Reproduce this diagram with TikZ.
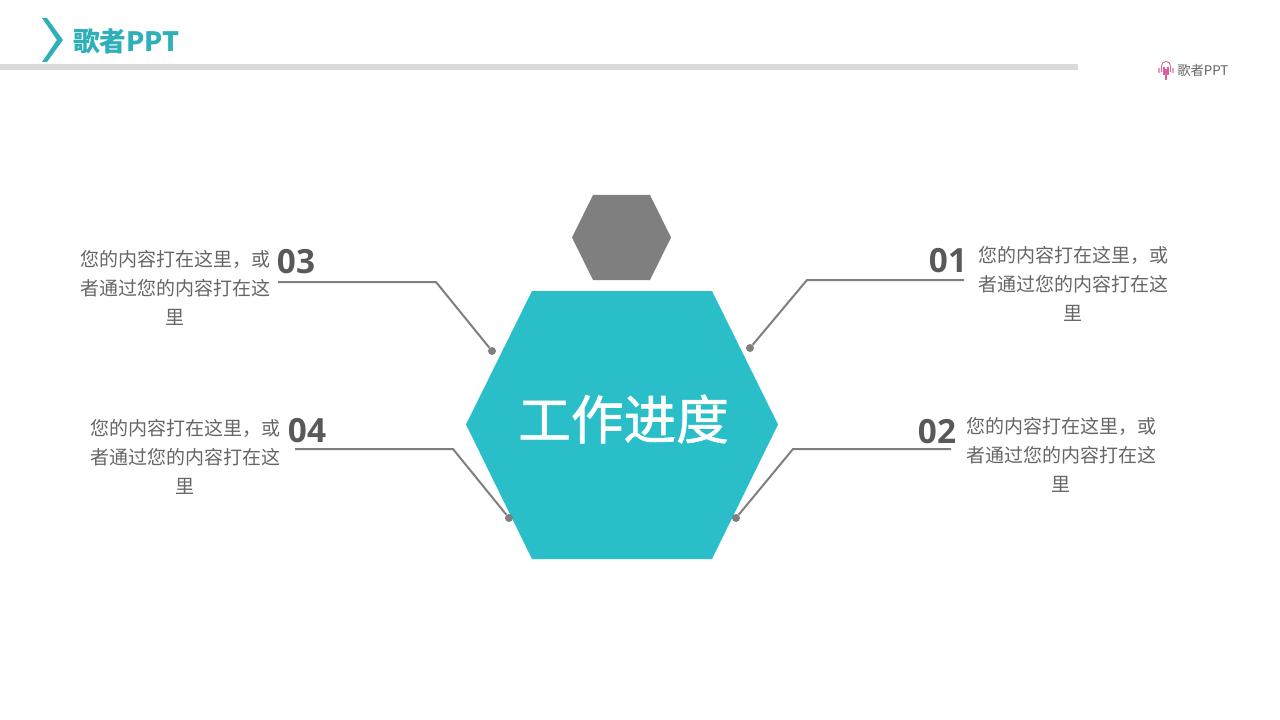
\documentclass[tikz,border=0pt]{standalone}
\usepackage{fontspec}
\setmainfont{Noto Sans CJK SC}
\newfontfamily\numfont{Open Sans}
\newfontfamily\midfont[BoldFont=Noto Sans CJK SC,BoldFeatures={FakeBold=1.2}]{Noto Sans CJK SC}
\usetikzlibrary{calc}
\definecolor{tealmain}{HTML}{29BEC8}
\definecolor{tealhead}{HTML}{2FB0B9}
\definecolor{greyhex}{HTML}{7F7F7F}
\definecolor{greytext}{HTML}{666666}
\definecolor{greynum}{HTML}{595959}
\definecolor{greybar}{HTML}{D9D9D9}
\definecolor{logopink}{HTML}{D9609A}
\tikzset{
	bodytext/.style={align=center, inner sep=0, color=greytext, font=\fontsize{14.25pt}{21.75pt}\selectfont},
	numtext/.style={inner sep=0, color=greynum, font=\numfont\bfseries\fontsize{25pt}{25pt}\selectfont},
	leadline/.style={line width=1.5pt, color=greyhex},
	leaddot/.style={circle, fill=greyhex, inner sep=0, minimum size=6pt}
}
\begin{document}
\begin{tikzpicture}[x=0.75pt, y=-0.75pt]
	%%%%% HEADER %%%%%
	\useasboundingbox (0, 0) rectangle (1280, 720);
	\fill[white] (0, 0) rectangle (1280, 720);
	\fill[greybar] (0, 64) rectangle (1078, 70);
	\fill[tealhead] (42, 18) -- (47, 18) -- (63, 40) -- (47, 62) -- (42, 62) -- (57, 40) -- cycle;
	\node[anchor=west, inner sep=0, color=tealhead, font=\bfseries\fontsize{20pt}{20pt}\selectfont] (title) at (73, 41) {歌者PPT};

	%%%%% LOGO %%%%%
	\draw[line width=0.6pt, color=logopink] (1161.5, 72) -- (1161.5, 66) arc (180:360:4.5) -- (1170.5, 72);
	\draw[line width=0.8pt, color=logopink] (1164, 67) -- (1164, 75);
	\draw[line width=0.8pt, color=logopink] (1166, 69) -- (1166, 80);
	\draw[line width=0.8pt, color=logopink] (1168, 67) -- (1168, 75);
	\draw[line width=0.8pt, color=logopink!60] (1159, 68) -- (1159, 73);
	\draw[line width=0.8pt, color=logopink!60] (1173, 68) -- (1173, 73);
	\node[anchor=west, inner sep=0, color=greytext, font=\fontsize{10pt}{10pt}\selectfont] (logo) at (1177, 70.5) {歌者PPT};

	%%%%% HEXAGONS %%%%%
	\fill[greyhex] (572, 237.5) -- (593, 195) -- (650, 195) -- (671, 237.5) -- (650, 280) -- (593, 280) -- cycle;
	\fill[tealmain] (466, 424.5) -- (532, 291) -- (712, 291) -- (778, 424.5) -- (712, 559) -- (532, 559) -- cycle;
	\node[inner sep=0, color=white, font=\midfont\bfseries\fontsize{39.5pt}{39.5pt}\selectfont] (center) at (623.5, 419) {工作进度};

	%%%%% TEXTS %%%%%
	\node[bodytext] (text3) at (175, 288) {您的内容打在这里，或\\者通过您的内容打在这\\里};
	\node[bodytext] (text4) at (185, 457) {您的内容打在这里，或\\者通过您的内容打在这\\里};
	\node[bodytext] (text1) at (1073, 284) {您的内容打在这里，或\\者通过您的内容打在这\\里};
	\node[bodytext] (text2) at (1061, 455) {您的内容打在这里，或\\者通过您的内容打在这\\里};

	\node[numtext] (num3) at (296, 262) {03};
	\node[numtext] (num4) at (307, 431) {04};
	\node[numtext] (num1) at (948, 261) {01};
	\node[numtext] (num2) at (937, 432) {02};

	%%%%% CONNECTORS %%%%%
	\coordinate (start3) at (278, 282);
	\coordinate (bend3) at (436, 282);
	\node[leaddot] (dot3) at (492, 351) {};
	\coordinate (start4) at (295, 449);
	\coordinate (bend4) at (453, 449);
	\node[leaddot] (dot4) at (509, 518) {};
	\coordinate (start1) at (964, 280);
	\coordinate (bend1) at (807, 280);
	\node[leaddot] (dot1) at (750, 348) {};
	\coordinate (start2) at (951, 449);
	\coordinate (bend2) at (793, 449);
	\node[leaddot] (dot2) at (736, 518) {};

	\draw[leadline] (start3) -- (bend3) -- (dot3);
	\draw[leadline] (start4) -- (bend4) -- (dot4);
	\draw[leadline] (start1) -- (bend1) -- (dot1);
	\draw[leadline] (start2) -- (bend2) -- (dot2);
\end{tikzpicture}
\end{document}
